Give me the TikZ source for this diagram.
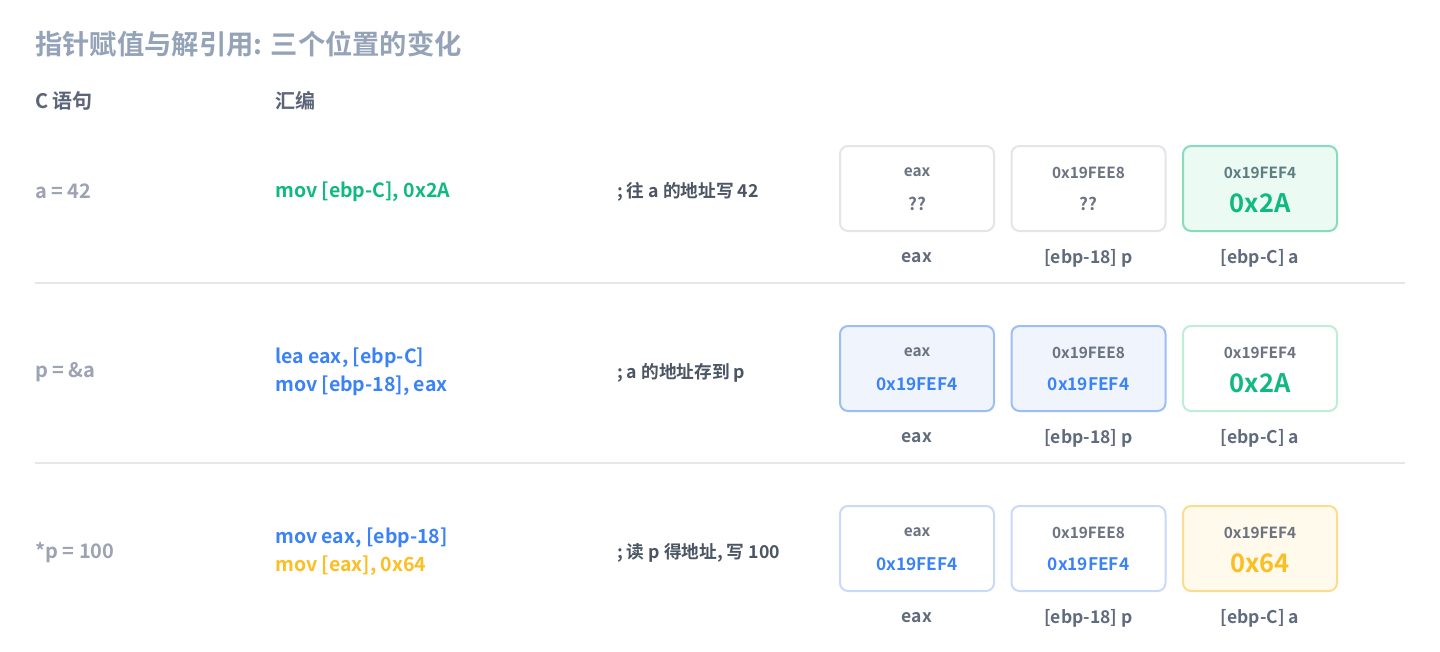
\documentclass[tikz,border=0pt]{standalone}
\usepackage{fontspec}
\setmainfont{Noto Sans CJK SC}[BoldFont={Noto Sans CJK SC Bold}]
\definecolor{titlec}{HTML}{94A3B8}
\definecolor{headc}{HTML}{5B6478}
\definecolor{lightc}{HTML}{9CA3B4}
\definecolor{textc}{HTML}{5F6B7D}
\definecolor{cmtc}{HTML}{4B5563}
\definecolor{greenc}{HTML}{10B981}
\definecolor{bluec}{HTML}{3B82F6}
\definecolor{amberc}{HTML}{FBBF24}
\definecolor{sepc}{HTML}{E5E7EB}
\definecolor{grayb}{HTML}{E3E5E9}
\definecolor{greenb}{HTML}{86DDB9}
\definecolor{greenf}{HTML}{EBFAF3}
\definecolor{greenb2}{HTML}{BEEDD8}
\definecolor{blueb}{HTML}{9DBDF6}
\definecolor{bluef}{HTML}{EFF4FD}
\definecolor{blueb2}{HTML}{C9DAF9}
\definecolor{amberb}{HTML}{FCDD8E}
\definecolor{amberf}{HTML}{FFFAEB}
\definecolor{addrc}{HTML}{6B7280}
\begin{document}
\begin{tikzpicture}[x=1pt,y=-1pt,
  cell/.style={draw, rounded corners=8, minimum width=154, minimum height=85, line width=2, inner sep=0},
  toplab/.style={font=\fontsize{15.4}{17}\selectfont\bfseries, text=addrc, inner sep=0},
  val/.style={font=\fontsize{17.3}{20}\selectfont\bfseries, inner sep=0},
  bigval/.style={font=\fontsize{25.5}{28}\selectfont\bfseries, inner sep=0},
  botlab/.style={font=\fontsize{17.5}{20}\selectfont\bfseries, text=textc, inner sep=0},
  ctext/.style={font=\fontsize{20}{23}\selectfont\bfseries, text=lightc, anchor=west, inner sep=0},
  code/.style={font=\fontsize{19.5}{22}\selectfont\bfseries, anchor=west, inner sep=0},
  cmt/.style={font=\fontsize{17.7}{20}\selectfont\bfseries, text=cmtc, anchor=west, inner sep=0},
  sep/.style={draw=sepc, line width=1.2}]
\useasboundingbox (0,0) rectangle (1440,651);
\fill[white] (0,0) rectangle (1440,651);

\node[anchor=west, inner sep=0, font=\fontsize{27.3}{30}\selectfont\bfseries, text=titlec] (title) at (35,44) {指针赋值与解引用: 三个位置的变化};
\node[anchor=west, inner sep=0, font=\fontsize{20}{23}\selectfont\bfseries, text=headc] (hc) at (35,101) {C 语句};
\node[anchor=west, inner sep=0, font=\fontsize{20}{23}\selectfont\bfseries, text=headc] (hasm) at (275,101) {汇编};

% separators
\coordinate (s1a) at (35,283); \coordinate (s1b) at (1405,283);
\coordinate (s2a) at (35,463); \coordinate (s2b) at (1405,463);
\draw[sep] (s1a) -- (s1b);
\draw[sep] (s2a) -- (s2b);

% ---- Row 1
\node[ctext] (c1) at (35,191.5) {a = 42};
\node[code, text=greenc] (a1) at (275,191.5) {mov [ebp-C], 0x2A};
\node[cmt] (m1) at (617,191.5) {; 往 a 的地址写 42};
\node[cell, draw=grayb, fill=white] (b11) at (917,188.5) {};
\node[cell, draw=grayb, fill=white] (b12) at (1088.5,188.5) {};
\node[cell, draw=greenb, fill=greenf] (b13) at (1260,188.5) {};
\node[toplab] (t11) at ([yshift=16]b11.center) {eax};
\node[toplab] (t12) at ([yshift=16]b12.center) {0x19FEE8};
\node[toplab, text=addrc!85!greenc] (t13) at ([yshift=16]b13.center) {0x19FEF4};
\node[val, text=addrc] (v11) at ([yshift=-15.5]b11.center) {??};
\node[val, text=addrc] (v12) at ([yshift=-15.5]b12.center) {??};
\node[bigval, text=greenc] (v13) at ([yshift=-14.5]b13.center) {0x2A};
\node[botlab] (l11) at ([yshift=-69.5]b11.center) {eax};
\node[botlab] (l12) at ([yshift=-69.5]b12.center) {[ebp-18] p};
\node[botlab] (l13) at ([yshift=-69.5]b13.center) {[ebp-C] a};

% ---- Row 2
\node[ctext] (c2) at (35,372.5) {p = \&a};
\node[code, text=bluec] (a2a) at (275,357.5) {lea eax, [ebp-C]};
\node[code, text=bluec] (a2b) at (275,385.5) {mov [ebp-18], eax};
\node[cmt] (m2) at (617,372.5) {; a 的地址存到 p};
\node[cell, draw=blueb, fill=bluef] (b21) at (917,368.5) {};
\node[cell, draw=blueb, fill=bluef] (b22) at (1088.5,368.5) {};
\node[cell, draw=greenb2, fill=white] (b23) at (1260,368.5) {};
\node[toplab] (t21) at ([yshift=16]b21.center) {eax};
\node[toplab] (t22) at ([yshift=16]b22.center) {0x19FEE8};
\node[toplab] (t23) at ([yshift=16]b23.center) {0x19FEF4};
\node[val, text=bluec] (v21) at ([yshift=-15.5]b21.center) {0x19FEF4};
\node[val, text=bluec] (v22) at ([yshift=-15.5]b22.center) {0x19FEF4};
\node[bigval, text=greenc] (v23) at ([yshift=-14.5]b23.center) {0x2A};
\node[botlab] (l21) at ([yshift=-69.5]b21.center) {eax};
\node[botlab] (l22) at ([yshift=-69.5]b22.center) {[ebp-18] p};
\node[botlab] (l23) at ([yshift=-69.5]b23.center) {[ebp-C] a};

% ---- Row 3
\node[ctext] (c3) at (35,552.5) {*p = 100};
\node[code, text=bluec] (a3a) at (275,537.5) {mov eax, [ebp-18]};
\node[code, text=amberc] (a3b) at (275,565.5) {mov [eax], 0x64};
\node[cmt] (m3) at (617,552.5) {; 读 p 得地址, 写 100};
\node[cell, draw=blueb2, fill=white] (b31) at (917,548.5) {};
\node[cell, draw=blueb2, fill=white] (b32) at (1088.5,548.5) {};
\node[cell, draw=amberb, fill=amberf] (b33) at (1260,548.5) {};
\node[toplab] (t31) at ([yshift=16]b31.center) {eax};
\node[toplab] (t32) at ([yshift=16]b32.center) {0x19FEE8};
\node[toplab] (t33) at ([yshift=16]b33.center) {0x19FEF4};
\node[val, text=bluec] (v31) at ([yshift=-15.5]b31.center) {0x19FEF4};
\node[val, text=bluec] (v32) at ([yshift=-15.5]b32.center) {0x19FEF4};
\node[bigval, text=amberc] (v33) at ([yshift=-14.5]b33.center) {0x64};
\node[botlab] (l31) at ([yshift=-69.5]b31.center) {eax};
\node[botlab] (l32) at ([yshift=-69.5]b32.center) {[ebp-18] p};
\node[botlab] (l33) at ([yshift=-69.5]b33.center) {[ebp-C] a};
\end{tikzpicture}
\end{document}
